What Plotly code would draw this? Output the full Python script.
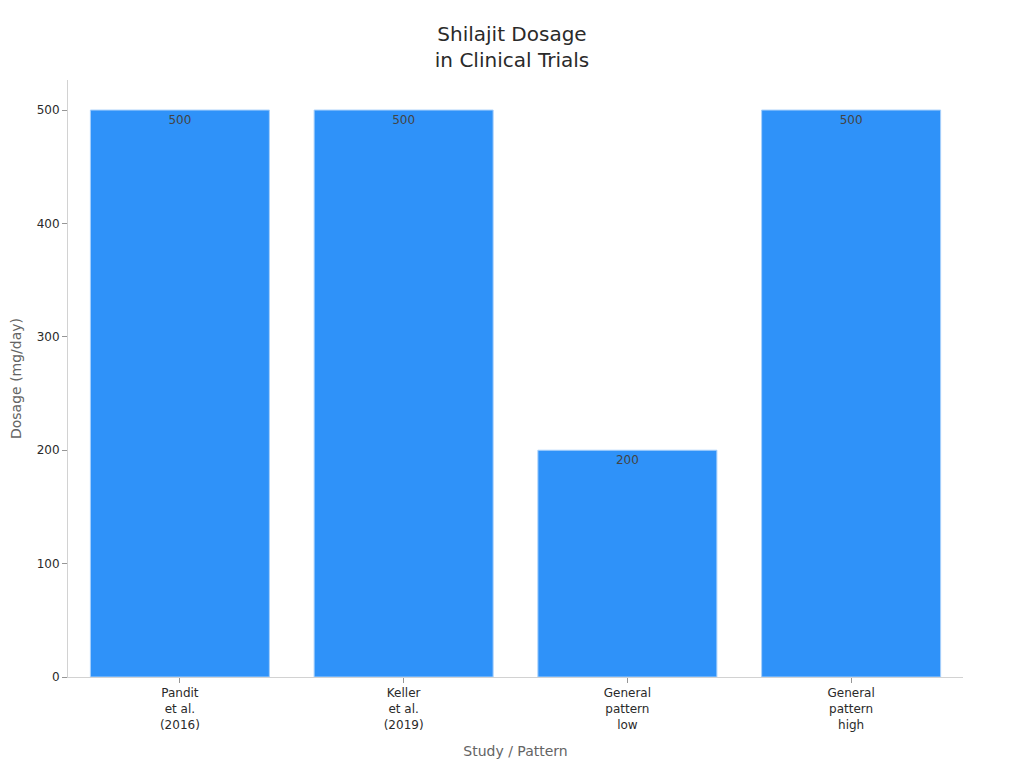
import plotly.graph_objects as go

categories = ['Pandit<br>et al.<br>(2016)', 'Keller<br>et al.<br>(2019)',
              'General<br>pattern<br>low', 'General<br>pattern<br>high']
dosage = [500, 500, 200, 500]

fig = go.Figure()
fig.add_trace(go.Bar(
    x=categories,
    y=dosage,
    text=[str(v) for v in dosage],
    textposition='inside',
    insidetextanchor='end',
    textfont=dict(color='rgb(68,68,68)', size=12),
    marker=dict(color='#2f92f9', line=dict(color='#a8d0fb', width=1)),
    showlegend=False,
))

fig.update_layout(
    font=dict(family='DejaVu Sans', color='rgb(42,42,42)'),
    plot_bgcolor='white',
    paper_bgcolor='white',
    margin=dict(l=60, r=53, t=72, b=83),
    bargap=0.2,
    title=dict(
        text='Shilajit Dosage<br>in Clinical Trials',
        x=0.5, xanchor='center',
        y=0.956, yanchor='top',
        font=dict(size=20, color='rgb(42,42,42)'),
    ),
    xaxis=dict(
        title=dict(text='Study / Pattern', font=dict(size=14, color='rgb(100,100,100)')),
        showline=True, linecolor='rgb(210,210,210)', linewidth=1,
        ticks='outside', tickcolor='rgb(150,150,150)', ticklen=5,
        tickfont=dict(size=12),
        showgrid=False,
        automargin=False,
    ),
    yaxis=dict(
        title=dict(text='Dosage (mg/day)', font=dict(size=14, color='rgb(100,100,100)')),
        range=[0, 526.5],
        showline=True, linecolor='rgb(210,210,210)', linewidth=1,
        ticks='outside', tickcolor='rgb(150,150,150)', ticklen=5,
        tickfont=dict(size=12),
        showgrid=False, zeroline=False,
        dtick=100,
        automargin=False,
    ),
)

fig.write_html("out.html")
